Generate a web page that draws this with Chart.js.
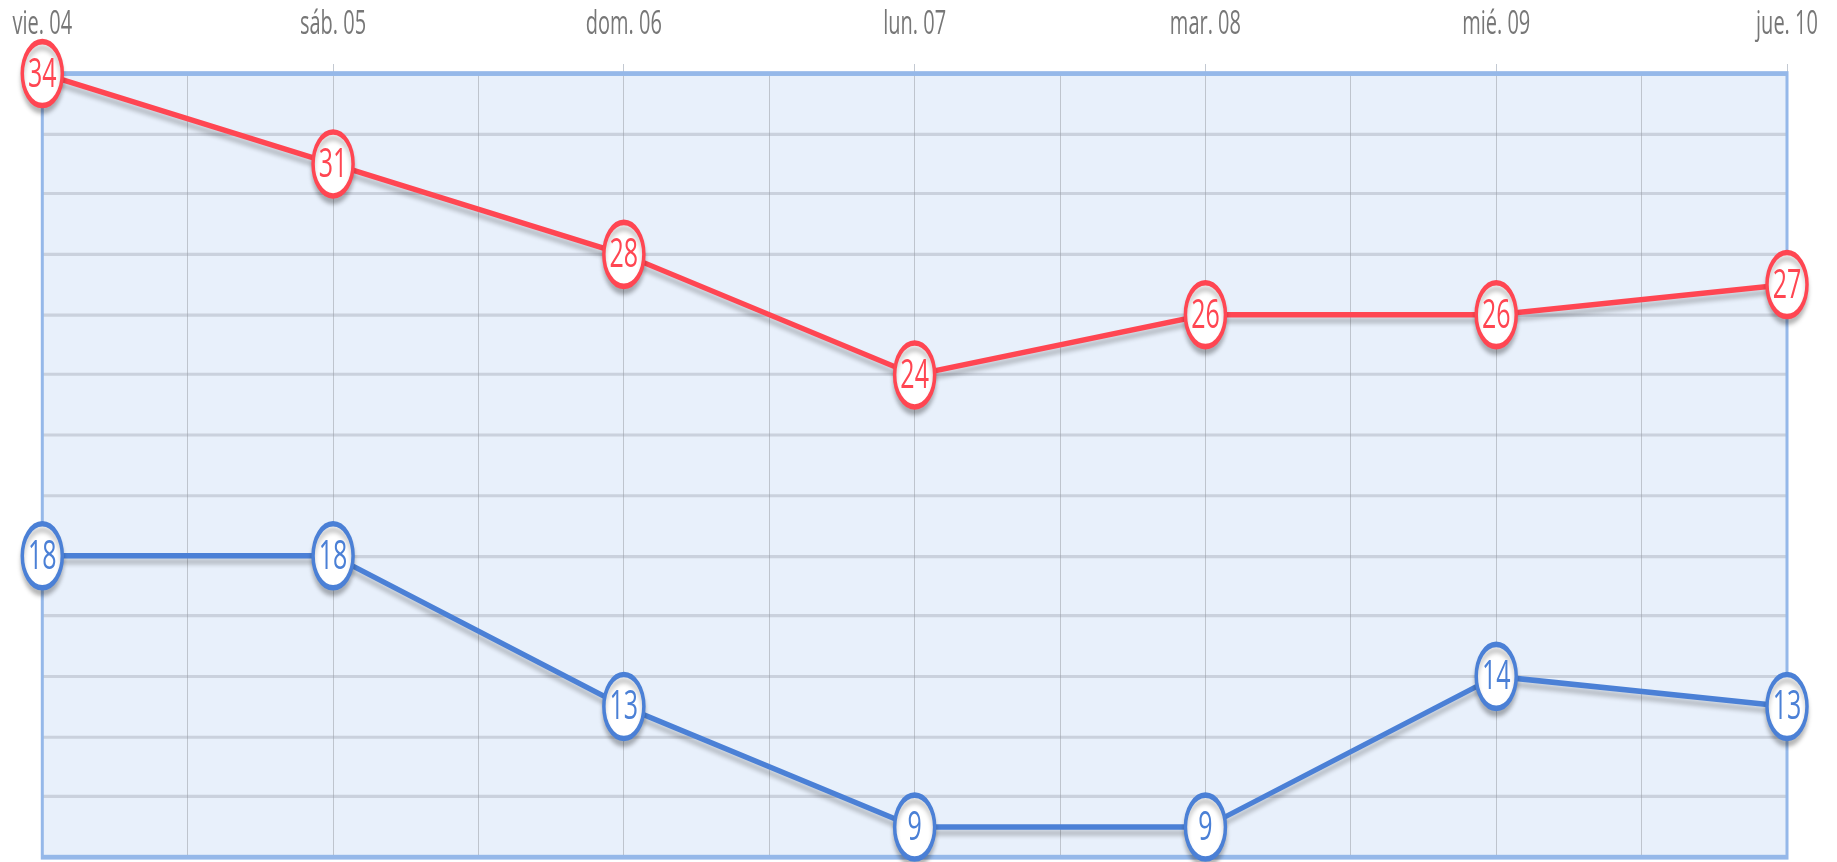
<!DOCTYPE html>
<html>
<head>
<meta charset="utf-8">
<script src="https://cdn.jsdelivr.net/npm/chart.js@4/dist/chart.umd.min.js"></script>
<style>
    html, body { margin: 0; padding: 0; background: #ffffff; overflow: hidden; }
    #tempChart { display: block; }
</style>
</head>
<body>
<canvas id="tempChart" width="1837" height="862"></canvas>
<script>
// Chart data
const dayLabels = ['vie. 04', 'sáb. 05', 'dom. 06', 'lun. 07', 'mar. 08', 'mié. 09', 'jue. 10'];
const maxTemps = [34, 31, 28, 24, 26, 26, 27];
const minTemps = [18, 18, 13, 9, 9, 14, 13];
const yMin = 8;
const yMax = 34;
const yStep = 2;

// The reference is a vertically stretched chart: it is laid out in the top
// LAYOUT_HEIGHT pixels and then drawn stretched to the full canvas height.
const CANVAS_W = 1837;
const CANVAS_H = 862;
const LAYOUT_HEIGHT = 539;
const STRETCH = CANVAS_H / LAYOUT_HEIGHT;

const RED = '#ff4652';
const BLUE = '#4b80d6';

function toPoints(values) {
    return values.map(function(v, i) { return { x: i, y: v }; });
}

/**
 * Stretch everything the chart draws vertically.
 */
const stretchY = {
    id: 'stretchY',
    beforeDraw: function(chart) {
        chart.ctx.save();
        chart.ctx.setTransform(1, 0, 0, STRETCH, 0, 0);
    },
    afterDraw: function(chart) {
        chart.ctx.restore();
    }
};

/**
 * Light blue plot background and frame.
 */
const plotFrame = {
    id: 'plotFrame',
    beforeDraw: function(chart) {
        const a = chart.chartArea;
        const ctx = chart.ctx;
        ctx.save();
        ctx.fillStyle = '#e8f0fb';
        ctx.fillRect(a.left, a.top, a.right - a.left, a.bottom - a.top);
        ctx.restore();
    },
    beforeDatasetsDraw: function(chart) {
        const a = chart.chartArea;
        const ctx = chart.ctx;
        ctx.save();
        ctx.strokeStyle = '#95b8e9';
        ctx.lineWidth = 3;
        ctx.strokeRect(a.left, a.top, a.right - a.left, a.bottom - a.top);
        ctx.restore();
    }
};

/**
 * Soft drop shadow under each line and its points.
 */
const lineShadow = {
    id: 'lineShadow',
    beforeDatasetDraw: function(chart) {
        const ctx = chart.ctx;
        ctx.save();
        ctx.shadowColor = 'rgba(0, 0, 0, 0.22)';
        ctx.shadowBlur = 4;
        ctx.shadowOffsetY = 6;
    },
    afterDatasetDraw: function(chart) {
        chart.ctx.restore();
    }
};

/**
 * Value written inside each point.
 */
const pointValues = {
    id: 'pointValues',
    afterDatasetsDraw: function(chart) {
        const ctx = chart.ctx;
        ctx.save();
        ctx.font = '25px "Open Sans", sans-serif';
        ctx.textAlign = 'center';
        ctx.textBaseline = 'middle';
        chart.data.datasets.forEach(function(ds, di) {
            const meta = chart.getDatasetMeta(di);
            ctx.fillStyle = ds.borderColor;
            meta.data.forEach(function(pt, i) {
                ctx.fillText(String(ds.data[i].y), pt.x, pt.y + 1);
            });
        });
        ctx.restore();
    }
};

new Chart(document.getElementById('tempChart'), {
    type: 'line',
    data: {
        datasets: [{
            label: 'Máx',
            data: toPoints(maxTemps),
            borderColor: RED,
            borderWidth: 3.5,
            tension: 0,
            clip: false,
            pointRadius: 20,
            pointBorderWidth: 3.5,
            pointBackgroundColor: '#ffffff',
            pointBorderColor: RED
        }, {
            label: 'Mín',
            data: toPoints(minTemps),
            borderColor: BLUE,
            borderWidth: 3.5,
            tension: 0,
            clip: false,
            pointRadius: 20,
            pointBorderWidth: 3.5,
            pointBackgroundColor: '#ffffff',
            pointBorderColor: BLUE
        }]
    },
    options: {
        responsive: false,
        aspectRatio: CANVAS_W / CANVAS_H,
        animation: false,
        devicePixelRatio: 1,
        layout: {
            autoPadding: false,
            padding: { top: 0, left: 42, right: 50, bottom: CANVAS_H - LAYOUT_HEIGHT + 3 }
        },
        scales: {
            x: {
                type: 'linear',
                position: 'top',
                min: 0,
                max: dayLabels.length - 1,
                afterFit: function(scale) {
                    scale.height = 46;
                },
                grid: {
                    color: '#bec4cd',
                    lineWidth: 1,
                    tickLength: 6,
                    tickColor: function(c) {
                        return Number.isInteger(c.tick.value) ? '#c3c9d2' : 'rgba(0,0,0,0)';
                    }
                },
                border: { display: false },
                ticks: {
                    stepSize: 0.5,
                    autoSkip: false,
                    maxRotation: 0,
                    padding: 12.5,
                    color: '#777777',
                    font: { size: 20, family: "'Open Sans', sans-serif" },
                    callback: function(value) {
                        return Number.isInteger(value) ? dayLabels[value] : '';
                    }
                }
            },
            y: {
                min: yMin,
                max: yMax,
                grid: {
                    color: 'rgba(150, 156, 168, 0.36)',
                    lineWidth: 2,
                    drawTicks: false
                },
                border: { display: false },
                ticks: { display: false, stepSize: yStep }
            }
        },
        plugins: {
            legend: { display: false },
            tooltip: { enabled: false }
        }
    },
    plugins: [stretchY, plotFrame, lineShadow, pointValues]
});
</script>
</body>
</html>
